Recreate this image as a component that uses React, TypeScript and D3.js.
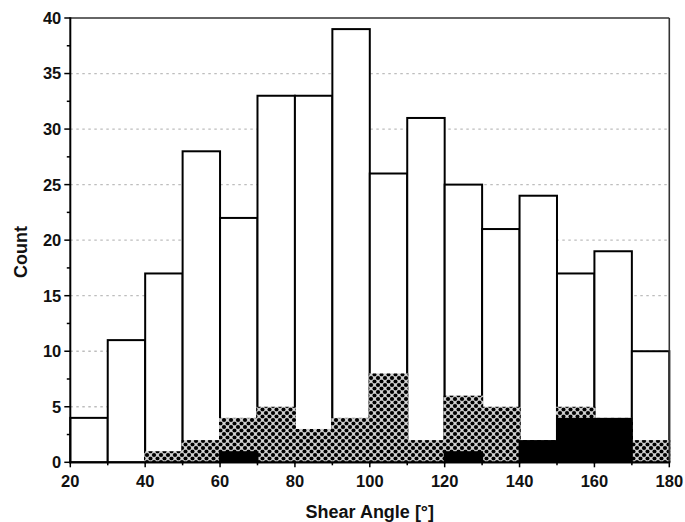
import React from "react";
import * as d3 from "d3";

// Histogram of shear angles, 10° bins
const binStarts = [20, 30, 40, 50, 60, 70, 80, 90, 100, 110, 120, 130, 140, 150, 160, 170];
const totalCounts = [4, 11, 17, 28, 22, 33, 33, 39, 26, 31, 25, 21, 24, 17, 19, 10];
const hatchedCounts = [0, 0, 1, 2, 4, 5, 3, 4, 8, 2, 6, 5, 2, 5, 4, 2];
const solidCounts = [0, 0, 0, 0, 1, 0, 0, 0, 0, 0, 1, 0, 2, 4, 4, 0];
const binWidth = 10;

const xTickValues = [20, 40, 60, 80, 100, 120, 140, 160, 180];
const xMinorTicks = [30, 50, 70, 90, 110, 130, 150, 170];
const yTickValues = [0, 5, 10, 15, 20, 25, 30, 35, 40];
const yMinorTicks = [2.5, 7.5, 12.5, 17.5, 22.5, 27.5, 32.5, 37.5];
const gridValues = [5, 10, 15, 20, 25, 30, 35];

const W = 685;
const H = 522;
const left = 70.3;
const right = 669.3;
const top = 18;
const bottom = 462.3;

export default function App() {
  const x = d3.scaleLinear().domain([20, 180]).range([left, right]);
  const y = d3.scaleLinear().domain([0, 40]).range([bottom, top]);
  const font = "'Liberation Sans', Arial, sans-serif";

  const bars = binStarts.map((s, i) => ({
    x0: x(s),
    x1: x(s + binWidth),
    total: totalCounts[i],
    hatched: hatchedCounts[i],
    solid: solidCounts[i],
  }));

  return (
    <svg
      width={W}
      height={H}
      style={{ position: "absolute", left: 0, top: 0, background: "#fff" }}
    >
      <defs>
        <pattern id="dots" width={7} height={7} patternUnits="userSpaceOnUse">
          <rect width={7} height={7} fill="#c8c8c8" />
          <rect x={1.4} y={1.4} width={4.2} height={4.2} fill="#fff" transform="rotate(45 3.5 3.5)" />
          <circle cx={0} cy={0} r={2.1} fill="#000" />
          <circle cx={7} cy={0} r={2.1} fill="#000" />
          <circle cx={0} cy={7} r={2.1} fill="#000" />
          <circle cx={7} cy={7} r={2.1} fill="#000" />
          <circle cx={3.5} cy={3.5} r={2.1} fill="#000" />
        </pattern>
      </defs>
      <rect width={W} height={H} fill="#fff" />

      {/* dotted grid */}
      {gridValues.map((v) => (
        <line
          key={"g" + v}
          x1={left}
          x2={right}
          y1={y(v)}
          y2={y(v)}
          stroke="#bdbdbd"
          strokeWidth={1.3}
          strokeDasharray="2.5 3.5"
        />
      ))}

      {/* total counts */}
      {bars.map((b, i) =>
        b.total > 0 ? (
          <rect
            key={"t" + i}
            x={b.x0}
            y={y(b.total)}
            width={b.x1 - b.x0}
            height={bottom - y(b.total)}
            fill="#fff"
            stroke="#000"
            strokeWidth={2}
          />
        ) : null
      )}

      {/* hatched subset */}
      {bars.map((b, i) =>
        b.hatched > 0 ? (
          <rect
            key={"h" + i}
            x={b.x0 - 1}
            y={y(b.hatched)}
            width={b.x1 - b.x0 + 2}
            height={bottom - y(b.hatched)}
            fill="url(#dots)"
          />
        ) : null
      )}

      {/* solid subset */}
      {bars.map((b, i) =>
        b.solid > 0 ? (
          <rect
            key={"s" + i}
            x={b.x0 - 1}
            y={y(b.solid)}
            width={b.x1 - b.x0 + 2}
            height={bottom - y(b.solid)}
            fill="#000"
          />
        ) : null
      )}

      {/* frame */}
      <line x1={left} x2={right} y1={top} y2={top} stroke="#333" strokeWidth={1.6} />
      <line x1={right} x2={right} y1={top} y2={bottom} stroke="#333" strokeWidth={1.6} />
      <line x1={left} x2={left} y1={top - 0.8} y2={bottom + 1} stroke="#000" strokeWidth={2} />
      <line x1={left - 1} x2={right + 0.8} y1={bottom} y2={bottom} stroke="#000" strokeWidth={2} />

      {/* y ticks */}
      {yTickValues.map((v) => (
        <g key={"yt" + v}>
          <line x1={left - 6} x2={left} y1={y(v)} y2={y(v)} stroke="#000" strokeWidth={1.5} />
          <text
            x={left - 9}
            y={y(v)}
            dy="0.36em"
            textAnchor="end"
            fontFamily={font}
            fontWeight="bold"
            fontSize={16.5}
            fill="#111"
          >
            {v}
          </text>
        </g>
      ))}
      {yMinorTicks.map((v) => (
        <line key={"ym" + v} x1={left - 3.5} x2={left} y1={y(v)} y2={y(v)} stroke="#000" strokeWidth={1.5} />
      ))}

      {/* x ticks */}
      {xTickValues.map((v) => (
        <g key={"xt" + v}>
          <line x1={x(v)} x2={x(v)} y1={bottom} y2={bottom + 5} stroke="#000" strokeWidth={1.5} />
          <text
            x={x(v)}
            y={487}
            textAnchor="middle"
            fontFamily={font}
            fontWeight="bold"
            fontSize={16.5}
            fill="#111"
          >
            {v}
          </text>
        </g>
      ))}
      {xMinorTicks.map((v) => (
        <line key={"xm" + v} x1={x(v)} x2={x(v)} y1={bottom} y2={bottom + 3} stroke="#000" strokeWidth={1.5} />
      ))}

      {/* axis titles */}
      <text
        x={(left + right) / 2}
        y={518}
        textAnchor="middle"
        fontFamily={font}
        fontWeight="bold"
        fontSize={18}
        fill="#111"
      >
        Shear Angle [°]
      </text>
      <text
        transform={`translate(27, 252) rotate(-90)`}
        textAnchor="middle"
        fontFamily={font}
        fontWeight="bold"
        fontSize={18}
        fill="#111"
      >
        Count
      </text>
    </svg>
  );
}
